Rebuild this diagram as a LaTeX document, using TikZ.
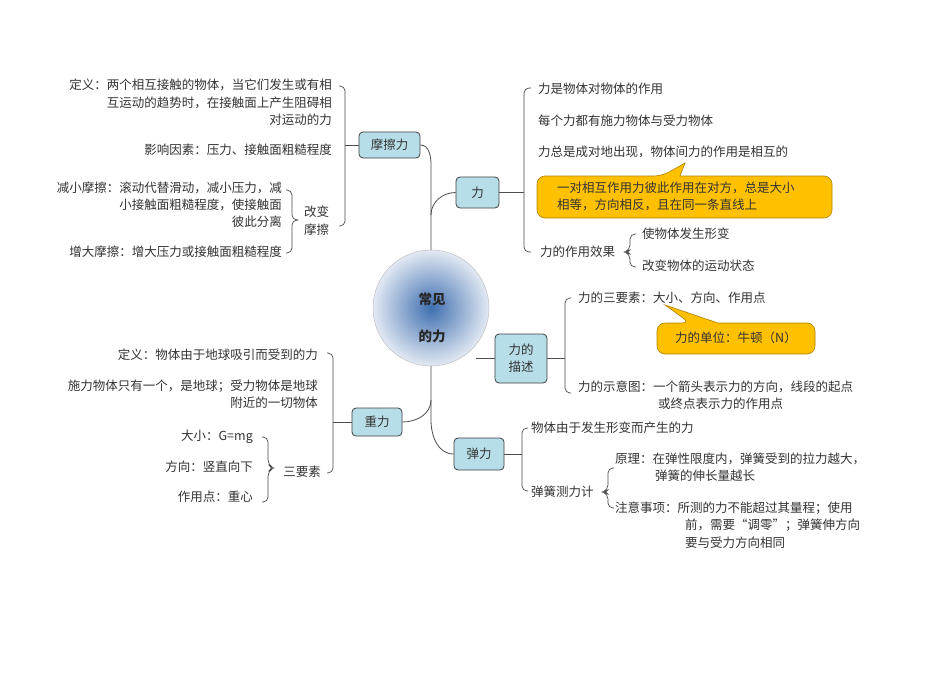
\documentclass[tikz,border=0pt]{standalone}
\usepackage{fontspec}
\setmainfont{Noto Sans CJK SC}
\begin{document}
\begin{tikzpicture}[x=1pt,y=-1pt,
  txt/.style={font=\fontsize{12.5}{17}\selectfont, text=black!80, inner sep=0pt},
  tl/.style={txt, anchor=west},
  tr/.style={txt, anchor=east},
  topic/.style={draw=black!75, line width=0.8pt, fill=cyan!25!blue!10!white, fill=boxblue, rounded corners=4pt, font=\fontsize{12.5}{17}\selectfont, text=black!80, inner sep=0pt},
  conn/.style={draw=black!70, line width=0.8pt},
  brk/.style={draw=black!70, line width=0.7pt, rounded corners=5pt},
  call/.style={fill=calloutorange, draw=calloutedge, line width=0.6pt}
]
\definecolor{boxblue}{HTML}{B7DDE8}
\definecolor{calloutorange}{HTML}{FFC000}
\definecolor{calloutedge}{HTML}{B08000}
\definecolor{cblue}{HTML}{3F6FB0}
\definecolor{cpale}{HTML}{E2E9F3}
\useasboundingbox (0,0) rectangle (950,672);
\fill[white] (0,0) rectangle (950,672);

% center
\shade[inner color=cblue, outer color=cpale, draw=none] (431,308) circle (58);
\draw[black!25, line width=0.5pt] (431,308) circle (58);
\node[font=\bfseries\fontsize{13.5}{17}\selectfont, text=black!85] (ctr) at (432,308) {};
\node[font=\bfseries\fontsize{13.5}{17}\selectfont, text=black!85] at (432,299) {常见};
\node[font=\bfseries\fontsize{13.5}{17}\selectfont, text=black!85] at (432,336) {的力};
\coordinate (ctop) at (431,250);
\coordinate (cbot) at (431,366);

% topic boxes
\node[topic, minimum width=61pt, minimum height=26pt] (mc) at (389.5,145) {摩擦力};
\node[topic, minimum width=43pt, minimum height=31pt] (li) at (477.5,192.5) {力};
\node[topic, minimum width=52pt, minimum height=49pt, align=center] (ms) at (521,358.5) {力的\\描述};
\node[topic, minimum width=50pt, minimum height=28pt] (zl) at (377,422) {重力};
\node[topic, minimum width=50pt, minimum height=32pt] (tl) at (479,454) {弹力};

% trunk
\draw[conn] (mc.east) to[out=0,in=90] (431,165) -- (ctop);
\draw[conn] (li.west) to[out=180,in=90] (431,215);
\draw[conn] (cbot) -- (431,420) to[out=-90,in=180] (tl.west);
\draw[conn] (zl.east) to[out=0,in=-90] (431,400);
\draw[conn] (ms.west) -- (476,358.5);

% ===== 摩擦力 =====
\draw[conn] (mc.west) -- (345,145);
\draw[brk] (339,86) -- (345,86) -- (345,226) -- (339,226);
\node[tr] at (332,85) {定义：两个相互接触的物体，当它们发生或有相};
\node[tr] at (332,103) {互运动的趋势时，在接触面上产生阻碍相};
\node[tr] at (332,120) {对运动的力};
\node[tr] at (332,150) {影响因素：压力、接触面粗糙程度};
\node[tl] at (304,212) {改变};
\node[tl] at (304,230) {摩擦};
\draw[brk] (286,190) -- (292,190) -- (292,220) -- (298,220);
\draw[brk] (298,220) -- (292,220) -- (292,253) -- (286,253);
\node[tr] at (282,188) {减小摩擦：滚动代替滑动，减小压力，减};
\node[tr] at (282,205) {小接触面粗糙程度，使接触面};
\node[tr] at (282,222) {彼此分离};
\node[tr] at (282,252) {增大摩擦：增大压力或接触面粗糙程度};

% ===== 力 =====
\draw[conn] (li.east) -- (524,192.5);
\draw[brk] (531,88) -- (524,88) -- (524,252) -- (531,252);
\node[tl] at (538,89) {力是物体对物体的作用};
\node[tl] at (538,121) {每个力都有施力物体与受力物体};
\node[tl] at (538,152) {力总是成对地出现，物体间力的作用是相互的};
\draw[call, rounded corners=8pt] (537,176) -- (662,176) [sharp corners] -- (685,163) -- (680,176) [rounded corners=8pt] -- (832,176) -- (832,218) -- (537,218) -- cycle;
\node[tl] at (557,188) {一对相互作用力彼此作用在对方，总是大小};
\node[tl] at (557,205) {相等，方向相反，且在同一条直线上};
\node[tl] (xg) at (540,252) {力的作用效果};
\draw[brk] (636,234) -- (630,234) -- (630,250) -- (625,252) -- (630,254) -- (630,267) -- (636,267);
\node[tl] at (642,234) {使物体发生形变};
\node[tl] at (642,266) {改变物体的运动状态};

% ===== 力的描述 =====
\draw[conn] (ms.east) -- (565,358.5);
\draw[brk] (571,298) -- (565,298) -- (565,393) -- (571,393);
\node[tl] at (578,298) {力的三要素：大小、方向、作用点};
\draw[call, rounded corners=8pt] (657,323) -- (690,323) [sharp corners] -- (665,305) -- (718,323) [rounded corners=8pt] -- (815,323) -- (815,354) -- (657,354) -- cycle;
\node[txt] at (736,338) {力的单位：牛顿（N）};
\node[tl] at (578,387) {力的示意图：一个箭头表示力的方向，线段的起点};
\node[tl] at (658,404) {或终点表示力的作用点};

% ===== 弹力 =====
\draw[conn] (tl.east) -- (522,454);
\draw[brk] (528,428) -- (522,428) -- (522,491) -- (528,491);
\node[tl] at (531,428) {物体由于发生形变而产生的力};
\node[tl] at (531,492) {弹簧测力计};
\draw[brk] (614,468) -- (608,468) -- (608,490) -- (603,492) -- (608,494) -- (608,508) -- (614,508);
\node[tl] at (615,459) {原理：在弹性限度内，弹簧受到的拉力越大，};
\node[tl] at (655,476) {弹簧的伸长量越长};
\node[tl] at (615,508) {注意事项：所测的力不能超过其量程；使用};
\node[tl] at (685,525) {前，需要“调零”；弹簧伸方向};
\node[tl] at (685,543) {要与受力方向相同};

% ===== 重力 =====
\draw[conn] (zl.west) -- (333,422);
\draw[brk] (327,353) -- (333,353) -- (333,473) -- (327,473);
\node[tr] at (318,355) {定义：物体由于地球吸引而受到的力};
\node[tr] at (318,386) {施力物体只有一个，是地球；受力物体是地球};
\node[tr] at (318,403) {附近的一切物体};
\node[tr] at (321,472) {三要素};
\draw[brk] (262,437) -- (268,437) -- (268,465) -- (274,468) -- (268,471) -- (268,502) -- (262,502);
\node[tr] at (253,437) {大小：G=mg};
\node[tr] at (253,467) {方向：竖直向下};
\node[tr] at (253,497) {作用点：重心};
\end{tikzpicture}
\end{document}
